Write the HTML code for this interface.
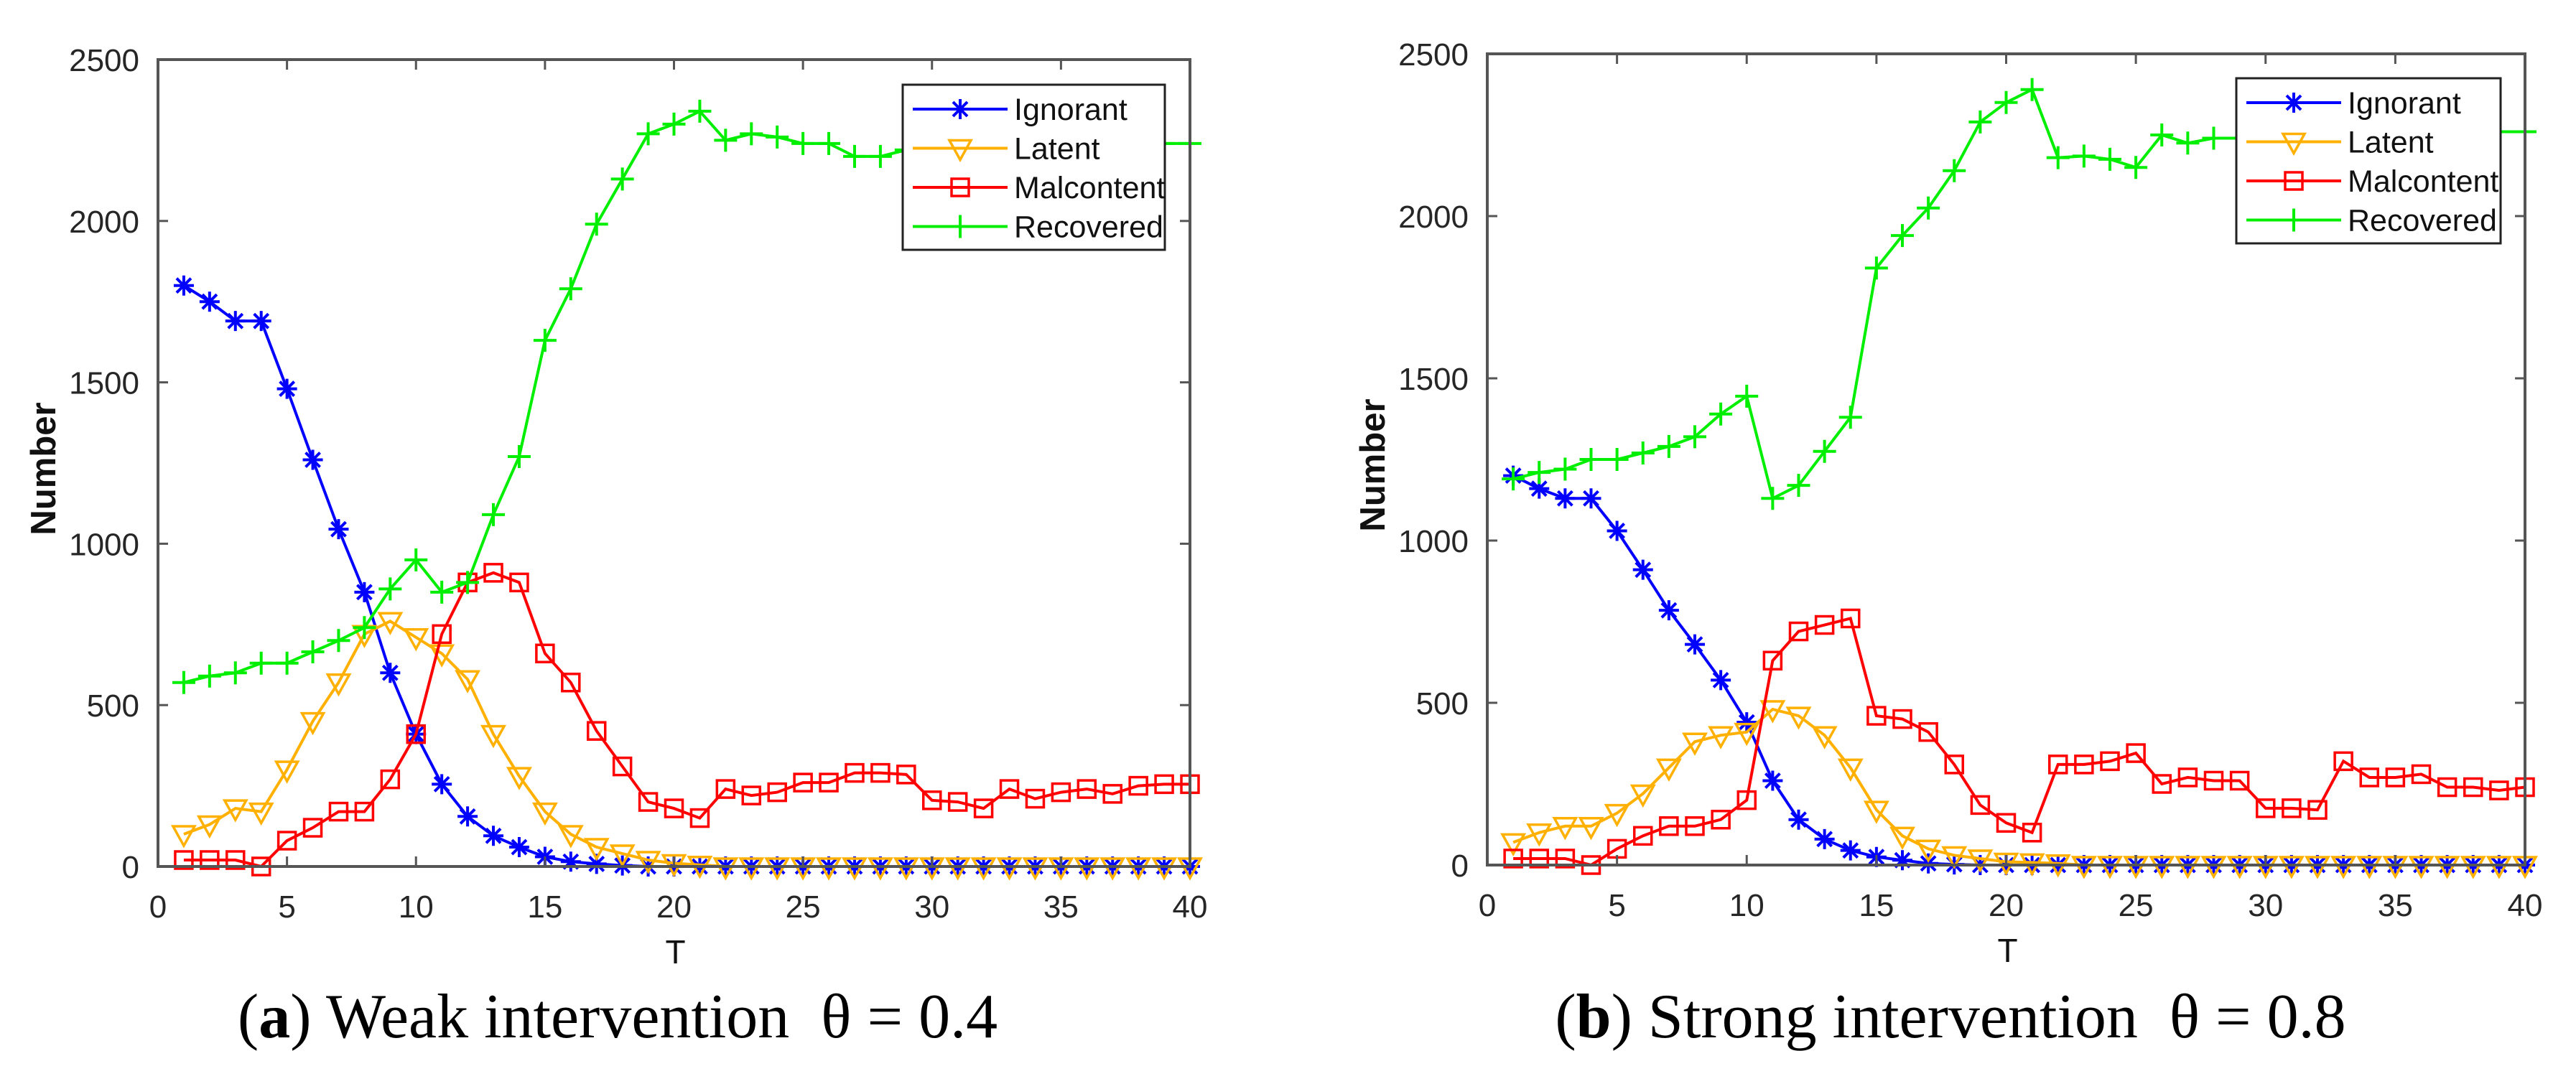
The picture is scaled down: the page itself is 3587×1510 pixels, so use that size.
<!DOCTYPE html>
<html><head><meta charset="utf-8"><style>
html,body{margin:0;padding:0;background:#fff;}
svg{display:block;}
</style></head><body>
<svg id="fig" width="3587" height="1510" viewBox="0 0 3587 1510" xmlns="http://www.w3.org/2000/svg" font-family="Liberation Sans, sans-serif"></svg>
<script>
// ---- data ----
const T = Array.from({length:40},(_,i)=>i+1);
const xTicks = [0,5,10,15,20,25,30,35,40];
const yTicks = [0,500,1000,1500,2000,2500];
const seriesNames = ["Ignorant","Latent","Malcontent","Recovered"];

const aIgnorant = [1800,1750,1690,1690,1480,1260,1045,850,600,410,255,155,95,60,30,15,8,3,0,0,0,0,0,0,0,0,0,0,0,0,0,0,0,0,0,0,0,0,0,0];
const aLatent = [100,130,180,170,300,450,570,720,760,710,660,580,410,280,170,100,60,40,20,10,5,0,0,0,0,0,0,0,0,0,0,0,0,0,0,0,0,0,0,0];
const aMalcontent = [20,20,20,0,80,120,170,170,270,410,720,880,910,880,660,570,420,310,200,180,150,240,220,230,260,260,290,290,285,205,200,180,240,210,230,240,225,250,255,255];
const aRecovered = [570,590,600,630,630,665,700,740,860,950,850,880,1090,1270,1630,1790,1990,2130,2270,2300,2340,2250,2270,2260,2240,2240,2200,2200,2220,2230,2235,2240,2240,2240,2240,2240,2240,2240,2240,2240];

const bIgnorant = [1200,1160,1130,1130,1030,910,785,680,570,440,260,140,80,45,25,15,5,2,0,0,0,0,0,0,0,0,0,0,0,0,0,0,0,0,0,0,0,0,0,0];
const bLatent = [70,100,120,120,160,220,300,380,400,410,480,460,400,300,170,90,50,30,20,10,8,5,0,0,0,0,0,0,0,0,0,0,0,0,0,0,0,0,0,0];
const bMalcontent = [20,20,20,0,50,90,120,120,140,200,630,720,740,760,460,450,410,310,185,130,100,310,310,320,345,250,270,260,260,175,175,170,320,270,270,280,240,240,230,240];
const bRecovered = [1190,1210,1220,1250,1250,1270,1290,1320,1390,1445,1130,1170,1275,1380,1840,1940,2025,2140,2290,2350,2390,2180,2185,2175,2150,2250,2225,2240,2240,2240,2245,2250,2250,2255,2255,2260,2260,2260,2260,2260];

const NS="http://www.w3.org/2000/svg";
const svg=document.getElementById('fig');
function mk(tag,attrs,parent){const e=document.createElementNS(NS,tag);for(const k in attrs)e.setAttribute(k,attrs[k]);(parent||svg).appendChild(e);return e;}
const colors=["#0000ff","#ffb000","#ff0000","#00ee00"];

function marker(g,kind,cx,cy,col){
  const s=14;
  if(kind===0){
    const d=`M${cx-s},${cy}L${cx+s},${cy}M${cx},${cy-s}L${cx},${cy+s}M${cx-10},${cy-10}L${cx+10},${cy+10}M${cx-10},${cy+10}L${cx+10},${cy-10}`;
    return mk('path',{d:d,stroke:col,'stroke-width':4,fill:'none'},g);
  } else if(kind===1){
    return mk('path',{d:`M${cx-15},${cy-11}L${cx+15},${cy-11}L${cx},${cy+16}Z`,stroke:col,'stroke-width':3.5,fill:'none'},g);
  } else if(kind===2){
    return mk('rect',{x:cx-12,y:cy-12,width:24,height:24,stroke:col,'stroke-width':3.5,fill:'none'},g);
  } else {
    return mk('path',{d:`M${cx-16},${cy}L${cx+16},${cy}M${cx},${cy-16}L${cx},${cy+16}`,stroke:col,'stroke-width':4,fill:'none'},g);
  }
}

function panel(id,L,R,Tp,B,data,leg,caption){
  const g=mk('g',{});
  
  
  const xs=v=>L+(v/40)*(R-L);
  const ys=v=>B-(v/2500)*(B-Tp);
  data.forEach((vals,si)=>{
    const sg=mk('g',{},g);
    
    
    const pts=vals.map((v,i)=>xs(T[i])+','+ys(v)).join(' ');
    mk('polyline',{points:pts,fill:'none',stroke:colors[si],'stroke-width':4},sg);
    vals.forEach((v,i)=>{const m=marker(sg,si,xs(T[i]),ys(v),colors[si]);
      
      });
  });
  const box=mk('rect',{x:L,y:Tp,width:R-L,height:B-Tp,fill:'none',stroke:'#555','stroke-width':4},g);
  
  
  xTicks.forEach(t=>{
    const x=xs(t);
    mk('line',{x1:x,y1:B,x2:x,y2:B-14,stroke:'#555','stroke-width':3},g);
    mk('line',{x1:x,y1:Tp,x2:x,y2:Tp+14,stroke:'#555','stroke-width':3},g);
    const tx=mk('text',{x:x,y:B+71,'font-size':44,fill:'#262626','text-anchor':'middle'},g);
    tx.textContent=t;
    
    
  });
  yTicks.forEach(t=>{
    const y=ys(t);
    mk('line',{x1:L,y1:y,x2:L+14,y2:y,stroke:'#555','stroke-width':3},g);
    mk('line',{x1:R,y1:y,x2:R-14,y2:y,stroke:'#555','stroke-width':3},g);
    const tx=mk('text',{x:L-26,y:y+16,'font-size':44,fill:'#262626','text-anchor':'end'},g);
    tx.textContent=t;
    
    
  });
  const yl=mk('text',{x:0,y:0,'font-size':49,'font-weight':'bold',fill:'#111','text-anchor':'middle',transform:`translate(${L-143},${(Tp+B)/2+8}) rotate(-90)`},g);
  yl.textContent='Number';
  
  
  const xl=mk('text',{x:(L+R)/2+2,y:B+135,'font-size':46,fill:'#111','text-anchor':'middle'},g);
  xl.textContent='T';
  
  
  const lg=mk('g',{},g);
  
  
  mk('rect',{x:leg[0],y:leg[1],width:leg[2],height:leg[3],fill:'#fff',stroke:'#222','stroke-width':3},lg);
  seriesNames.forEach((n,i)=>{
    const ey=leg[1]+34+i*54.5;
    const e=mk('g',{},lg);
    
    
    mk('line',{x1:leg[0]+14,y1:ey,x2:leg[0]+146,y2:ey,stroke:colors[i],'stroke-width':4},e);
    marker(e,i,leg[0]+80,ey,colors[i]);
    const t=mk('text',{x:leg[0]+155,y:ey+15,'font-size':43,fill:'#111'},e);
    t.textContent=n;
  });
  const c=mk('text',{x:caption[0],y:1445,'font-size':88,'font-family':'Liberation Serif, serif',fill:'#000','text-anchor':'middle'},g);
  
  
  const b=document.createElementNS(NS,'tspan');b.textContent='(';c.appendChild(b);
  const bb=document.createElementNS(NS,'tspan');bb.setAttribute('font-weight','bold');bb.textContent=caption[1];c.appendChild(bb);
  const r=document.createElementNS(NS,'tspan');r.textContent=caption[2];c.appendChild(r);
}
panel('panel-a',220,1657,83,1207,[aIgnorant,aLatent,aMalcontent,aRecovered],[1257,118,365,230],[860,'a',') Weak intervention\u00a0\u00a0θ = 0.4']);
panel('panel-b',2071,3516,75,1205,[bIgnorant,bLatent,bMalcontent,bRecovered],[3114,109,368,230],[2716,'b',') Strong intervention\u00a0\u00a0θ = 0.8']);
</script>
</body></html>
